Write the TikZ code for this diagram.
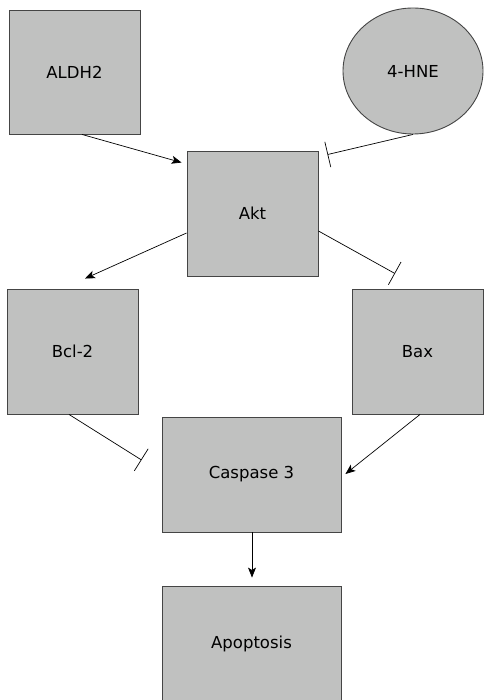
\documentclass[tikz,border=0pt]{standalone}
\usepackage{fontspec}
\setmainfont{DejaVu Sans}
\usetikzlibrary{arrows.meta,shapes.geometric}
\definecolor{boxfill}{HTML}{C0C1C0}
\definecolor{boxline}{HTML}{454545}
\tikzset{
  gbox/.style={draw=boxline, fill=boxfill, line width=0.9pt, rectangle, inner sep=0pt, font=\fontsize{16.5}{18}\selectfont},
  gell/.style={draw=boxline, fill=boxfill, line width=0.9pt, ellipse, inner sep=0pt, minimum width=140pt, minimum height=126pt, font=\fontsize{16.5}{18}\selectfont},
  act/.style={line width=0.7pt, -{Stealth[length=10pt,width=8pt,inset=2.5pt]}},
  inh/.style={line width=0.7pt, -{Bar[width=26pt,line width=0.7pt]}}
}
\begin{document}
\begin{tikzpicture}[x=1pt,y=-1pt]
\useasboundingbox (0,0) rectangle (483,700);
\node[gbox, minimum width=131pt, minimum height=124pt] (aldh) at (74.5,72) {ALDH2};
\node[gell] (hne) at (413,71) {4-HNE};
\node[gbox, minimum width=131pt, minimum height=125pt] (akt) at (252.5,213.5) {Akt};
\node[gbox, minimum width=131pt, minimum height=125pt] (bcl) at (72.5,351.5) {Bcl-2};
\node[gbox, minimum width=131pt, minimum height=125pt] (bax) at (417.5,351.5) {Bax};
\node[gbox, minimum width=179pt, minimum height=115pt] (casp) at (251.5,474.5) {Caspase 3};
\node[gbox, minimum width=179pt, minimum height=116pt] (apop) at (251.5,644) {Apoptosis};
\draw[act] ([xshift=7.5pt]aldh.south) -- ([xshift=-5pt,yshift=-12pt]akt.north west);
\draw[inh] (hne.south) -- ([xshift=9pt,yshift=-4pt]akt.north east);
\draw[act] ([yshift=-19.5pt]akt.west) -- ([xshift=12.5pt,yshift=10pt]bcl.north);
\draw[inh] ([yshift=-17.5pt]akt.east) -- ([xshift=-22.5pt,yshift=15pt]bax.north);
\draw[inh] ([xshift=-3.5pt]bcl.south) -- ([xshift=-20pt,yshift=14.5pt]casp.west);
\draw[act] ([xshift=2.5pt]bax.south) -- ([xshift=4pt,yshift=0.5pt]casp.east);
\draw[act] ([xshift=0.5pt]casp.south) -- ([xshift=0.5pt,yshift=8pt]apop.north);
\end{tikzpicture}
\end{document}
